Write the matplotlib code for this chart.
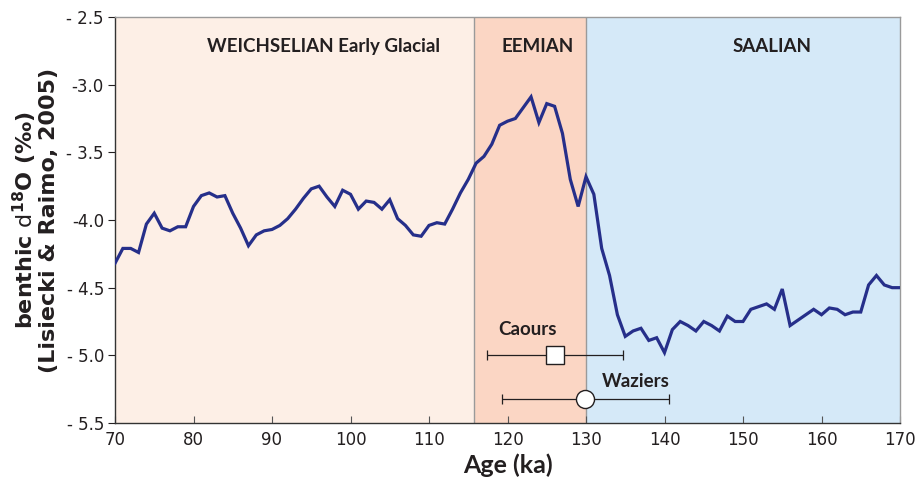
import matplotlib
matplotlib.use("Agg")
import matplotlib.pyplot as plt
import numpy as np

# ---- data ----
age = list(range(70, 171))
d18o = [-4.32, -4.21, -4.21, -4.24, -4.03, -3.95, -4.06, -4.08, -4.05, -4.05,
        -3.90, -3.82, -3.80, -3.83, -3.82, -3.95, -4.06, -4.19, -4.11, -4.08,
        -4.07, -4.04, -3.99, -3.92, -3.84, -3.77, -3.75, -3.83, -3.90, -3.78,
        -3.81, -3.92, -3.86, -3.87, -3.92, -3.85, -3.99, -4.04, -4.11, -4.12,
        -4.04, -4.02, -4.03, -3.92, -3.80, -3.70, -3.58, -3.53, -3.44, -3.30,
        -3.27, -3.25, -3.17, -3.09, -3.28, -3.14, -3.16, -3.36, -3.70, -3.90,
        -3.68, -3.81, -4.21, -4.41, -4.70, -4.86, -4.82, -4.80, -4.89, -4.87,
        -4.98, -4.81, -4.75, -4.78, -4.82, -4.75, -4.78, -4.82, -4.71, -4.75,
        -4.75, -4.66, -4.64, -4.62, -4.66, -4.51, -4.78, -4.74, -4.70, -4.66,
        -4.70, -4.65, -4.66, -4.70, -4.68, -4.68, -4.48, -4.41, -4.48, -4.50,
        -4.50]

periods = ["WEICHSELIAN Early Glacial", "EEMIAN", "SAALIAN"]
period_bounds = [(70, 115.7), (115.7, 130), (130, 170)]
period_label_x = [96.5, 123.9, 153.7]

site_names = ["Caours", "Waziers"]
site_age = [126.0, 129.9]
site_age_lo = [117.4, 119.3]
site_age_hi = [134.7, 140.6]
site_y = [-5.0, -5.32]

xticks = [70, 80, 90, 100, 110, 120, 130, 140, 150, 160, 170]
yticks = [-2.5, -3.0, -3.5, -4.0, -4.5, -5.0, -5.5]
ytick_labels = ["- 2.5", "-3.0", "- 3.5", "-4.0", "- 4.5", "- 5.0", "- 5.5"]

# ---- styling ----
period_colors = ["#FDEFE6", "#FBD6C4", "#D5E9F8"]
line_color = "#262F8A"
label_font = "Lato"

fig = plt.figure(figsize=(9.17, 4.83), dpi=100)
ax = fig.add_axes([115 / 917, 60 / 483, 785 / 917, 406 / 483])

for (a, b), c in zip(period_bounds, period_colors):
    ax.axvspan(a, b, color=c, lw=0, zorder=0)
for b in [115.7, 130]:
    ax.axvline(b, color="#9A9A9A", lw=1.0, zorder=1)

ax.plot(age, d18o, color=line_color, lw=2.3, zorder=3, solid_joinstyle="miter")

for name, x in zip(periods, period_label_x):
    ax.text(x, -2.72, name, ha="center", va="center", fontsize=13.5,
            fontweight="bold", family=label_font, color="#231F20")

markers = ["s", "o"]
for i in range(2):
    ax.errorbar([site_age[i]], [site_y[i]],
                xerr=[[site_age[i] - site_age_lo[i]], [site_age_hi[i] - site_age[i]]],
                fmt="none", ecolor="#231F20", elinewidth=0.9, capsize=3.5,
                capthick=0.9, zorder=4)
    ax.plot([site_age[i]], [site_y[i]], marker=markers[i], markersize=13,
            markerfacecolor="white", markeredgecolor="#231F20",
            markeredgewidth=1.0, zorder=5, linestyle="none")

ax.text(122.5, -4.81, site_names[0], ha="center", va="center", fontsize=13.5,
        fontweight="bold", family=label_font, color="#231F20", zorder=6)
ax.text(132.0, -5.19, site_names[1], ha="left", va="center", fontsize=13.5,
        fontweight="bold", family=label_font, color="#231F20", zorder=6)

ax.set_xlim(70, 170)
ax.set_ylim(-5.5, -2.5)
ax.set_xticks(xticks)
ax.set_xticklabels([str(v) for v in xticks])
ax.set_yticks(yticks)
ax.set_yticklabels(ytick_labels)
ax.tick_params(axis="x", direction="in", length=5, width=0.8, colors="#555555",
               labelcolor="#231F20", labelsize=12, pad=6)
ax.tick_params(axis="y", direction="out", length=5, width=0.8, colors="#231F20",
               labelsize=12, pad=3)
for lab in ax.get_xticklabels() + ax.get_yticklabels():
    lab.set_family("DejaVu Sans")

for s in ["top", "right"]:
    ax.spines[s].set_color("#9A9A9A")
    ax.spines[s].set_linewidth(1.0)
for s in ["left", "bottom"]:
    ax.spines[s].set_color("#333333")
    ax.spines[s].set_linewidth(1.0)

ax.set_xlabel("Age (ka)", fontsize=18, fontweight="bold", family=label_font,
              color="#231F20", labelpad=3)
ax.set_ylabel("benthic $\\mathrm{d}^{\\mathbf{18}}$O (‰)\n(Lisiecki & Raimo, 2005)",
              fontsize=16, fontweight="bold", family="DejaVu Sans",
              color="#231F20", labelpad=5, linespacing=1.0)

fig.savefig("out.png", dpi=100)
